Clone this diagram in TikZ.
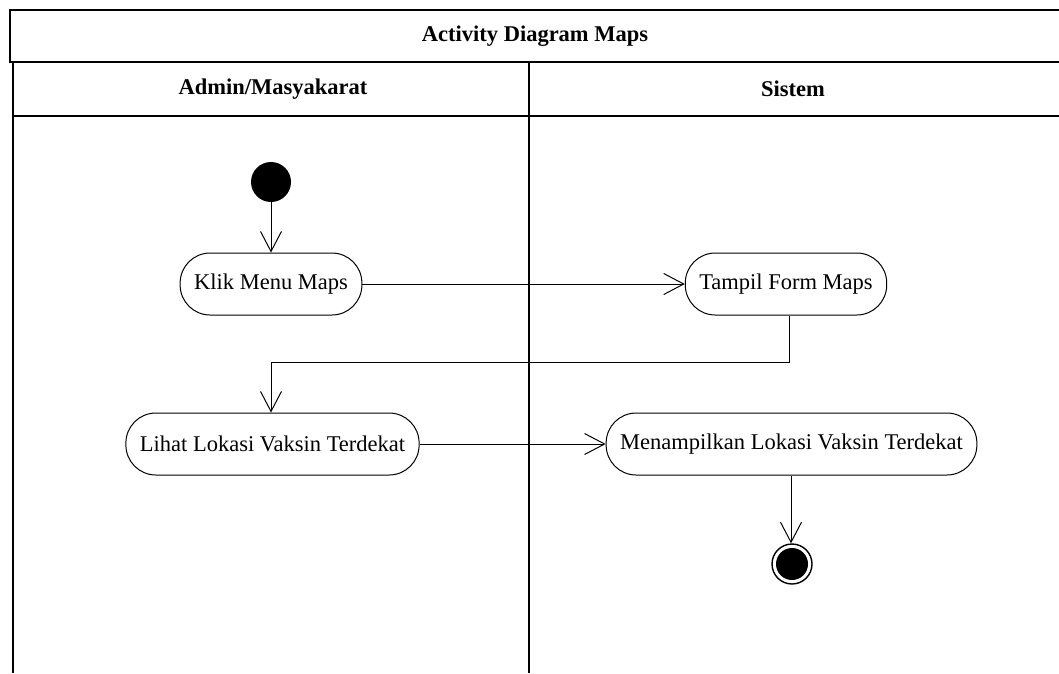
\documentclass[tikz,border=0pt]{standalone}
\usepackage{fontspec}
\setmainfont{Liberation Serif}
\usetikzlibrary{arrows.meta}
\begin{document}
\begin{tikzpicture}[x=1pt,y=-1pt,
  font=\fontsize{22.5}{27}\selectfont,
  lane/.style={line width=2pt},
  action/.style={draw, line width=1pt, rectangle, rounded corners=30pt,
    minimum height=62pt, inner xsep=14pt, inner ysep=0pt},
  flow/.style={draw, line width=1pt, -{Straight Barb[length=20pt,width=21pt,line width=1pt]}},
  startnode/.style={circle, fill=black, minimum size=40pt, inner sep=0pt},
  endring/.style={circle, draw, line width=1.4pt, minimum size=40pt, inner sep=0pt},
  enddot/.style={circle, fill=black, minimum size=32pt, inner sep=0pt},
  header/.style={font=\fontsize{22.5}{27}\selectfont\bfseries}]
\useasboundingbox (0,0) rectangle (1059,673);
\fill[white] (0,0) rectangle (1059,673);

% swimlane frame
\draw[lane] (1059,10) -- (10,10) -- (10,62) -- (1059,62);
\draw[lane] (13,62) -- (13,673);
\draw[lane] (13,116) -- (1059,116);
\draw[lane] (529,62) -- (529,673);
\node[header] (title) at (535,36) {Activity Diagram Maps};
\node[header] (laneA) at (273,89) {Admin/Masyakarat};
\node[header] (laneB) at (793,89) {Sistem};

% activities
\node[startnode] (start) at (271,182) {};
\node[action] (klik) at (271,284) {Klik Menu Maps};
\node[action] (tampil) at (786,284) {Tampil Form Maps};
\node[action] (lihat) at (272.5,444) {Lihat Lokasi Vaksin Terdekat};
\node[action] (menampilkan) at (791.5,444) {Menampilkan Lokasi Vaksin Terdekat};
\node[endring] (finish) at (792,564) {};
\node[enddot] at (finish) {};

% control flow
\draw[flow] (start) -- (klik);
\draw[flow] (klik.east |- 0,284) -- (tampil.west |- 0,284);
\draw[flow] (tampil.south -| 789,0) -- (789,362) -- (271,362) -- (lihat.north -| 271,0);
\draw[flow] (lihat.east |- 0,444) -- (menampilkan.west |- 0,444);
\draw[flow] (menampilkan.south -| 791,0) -- (finish.north -| 791,0);
\end{tikzpicture}
\end{document}
